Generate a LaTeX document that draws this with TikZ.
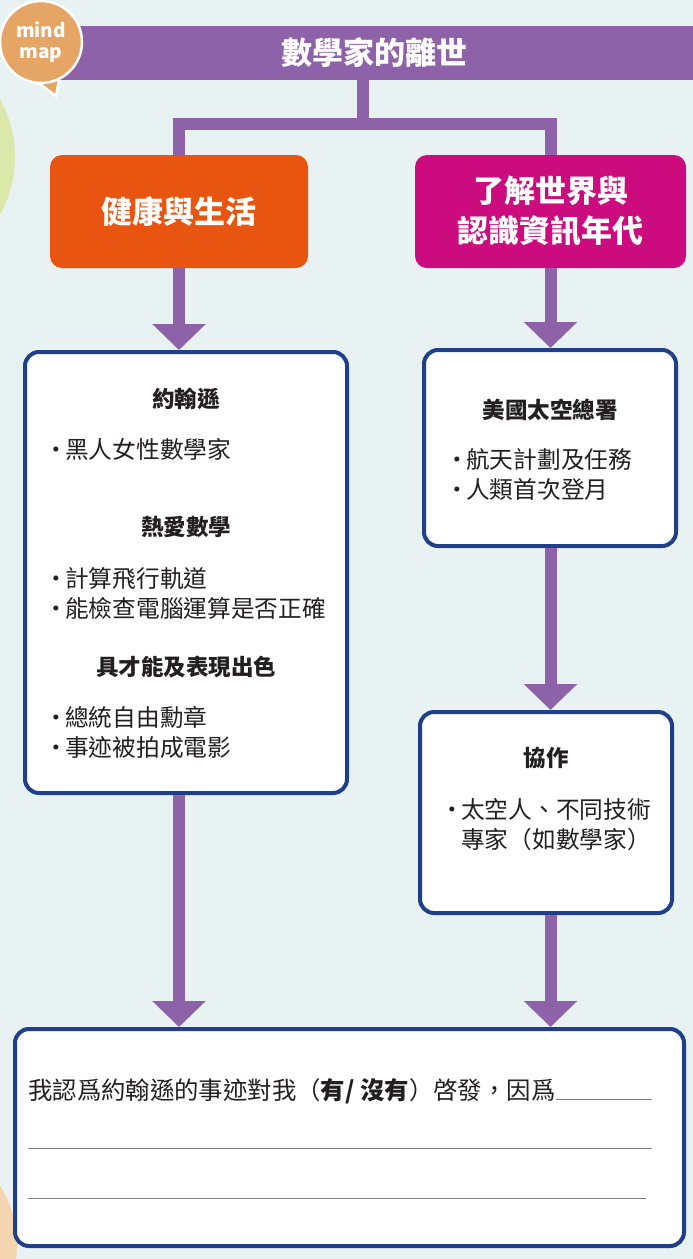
\documentclass[tikz,border=0pt]{standalone}
\usepackage[]{fontspec}
\usepackage[]{xcolor}
\setmainfont{Noto Sans CJK TC}
\usetikzlibrary{positioning}
\usetikzlibrary{arrows.meta}

\definecolor{pagebg}{HTML}{E9F2F3}
\definecolor{mmpurple}{HTML}{8E62A8}
\definecolor{mmorange}{HTML}{E85510}
\definecolor{mmmagenta}{HTML}{CB0B7E}
\definecolor{cardblue}{HTML}{1F3F8A}
\definecolor{badge}{HTML}{E5A565}
\definecolor{leafgreen}{HTML}{DCE8A9}
\definecolor{peach}{HTML}{F5D5B0}
\definecolor{ink}{HTML}{231F20}

\newcommand{\dotmark}{\makebox[18pt][c]{·}}

\begin{document}
\begin{tikzpicture}[
        x=1pt, y=-1pt,
        link/.style = {draw=mmpurple, line width=12pt, line join=miter},
        flow/.style = {link, -{Triangle[width=52pt, length=26pt]}},
        topic/.style = {rounded corners=12pt, text=white, align=center, inner sep=0pt,
                        font=\bfseries\fontsize{31}{40}\selectfont},
        card/.style = {draw=cardblue, line width=4pt, fill=white, rounded corners=14pt, inner sep=0pt},
        head/.style = {text=ink, inner sep=0pt, font=\bfseries\fontsize{22.5}{26}\selectfont},
        item/.style = {text=ink, inner sep=0pt, anchor=west, align=left, font=\fontsize{23.7}{30}\selectfont}
    ]

        \useasboundingbox (0,0) rectangle (693,1259);
        \fill[pagebg] (0,0) rectangle (693,1259);
        \fill[leafgreen] (-103,157) circle (118pt);
        \fill[peach] (-95,1245) circle (112pt);

        % title bar and badge
        \node[fill=mmpurple, minimum width=638pt, minimum height=54pt, inner sep=0pt, text=white,
              font=\bfseries\fontsize{31}{34}\selectfont] (title) at (374,53) {數學家的離世};
        \draw[fill=badge, draw=white, line width=2.5pt] (24,72) -- (56,96) -- (62,64) -- cycle;
        \node[circle, fill=badge, draw=white, line width=2.5pt, minimum size=82pt, inner sep=0pt,
              text=white, align=center, font=\bfseries\fontsize{19}{21}\selectfont] (badge) at (41,42) {mind\\map};

        % topics
        \node[topic, fill=mmorange, minimum width=258pt, minimum height=113pt] (health) at (179,211.5) {健康與生活};
        \node[topic, fill=mmmagenta, minimum width=271pt, minimum height=113pt] (world) at (550.5,211.5) {了解世界與\\認識資訊年代};

        \coordinate (fork) at (363,124);
        \draw[link] (title.south -| fork) -- (fork);
        \draw[link] (health.north) |- (fork) -| (world.north);

        % cards
        \node[card, minimum width=322pt, minimum height=441pt] (life) at (186,572.5) {};
        \node[card, minimum width=252pt, minimum height=196pt] (nasa) at (550,448) {};
        \node[card, minimum width=252pt, minimum height=201pt] (team) at (546,812.5) {};
        \node[card, minimum width=669pt, minimum height=217pt] (note) at (349.5,1137.5) {};

        \node[head] (johnson) at (186,399) {約翰遜};
        \node[item] (black) at (47,449) {\dotmark 黑人女性數學家};
        \node[head] (love) at (186,527) {熱愛數學};
        \node[item] (calc) at (47,593) {\dotmark 計算飛行軌道\\\dotmark 能檢查電腦運算是否正確};
        \node[head] (talent) at (186,667) {具才能及表現出色};
        \node[item] (honour) at (47,732) {\dotmark 總統自由勳章\\\dotmark 事迹被拍成電影};

        \node[head] (agency) at (550,410) {美國太空總署};
        \node[item] (mission) at (448,474) {\dotmark 航天計劃及任務\\\dotmark 人類首次登月};

        \node[head] (coop) at (546,758) {協作};
        \node[item] (experts) at (443,825) {\dotmark 太空人、不同技術\\\hspace{18pt}專家（如數學家）};

        \node[item, font=\fontsize{24.4}{30}\selectfont] (reason) at (28,1091)
            {我認爲約翰遜的事迹對我（\textbf{有/ 沒有}）啓發，因爲};
        \coordinate (blank1) at (652,1100);
        \coordinate (line2a) at (28,1148);
        \coordinate (line2b) at (652,1148);
        \coordinate (line3a) at (28,1198);
        \coordinate (line3b) at (646,1198);
        \draw[gray, line width=1pt] (reason.base east) -- (reason.base east -| blank1);
        \draw[gray, line width=1pt] (line2a) -- (line2b);
        \draw[gray, line width=1pt] (line3a) -- (line3b);

        % arrows
        \draw[flow] (health.south) -- (health.south |- life.north);
        \draw[flow] (health.south |- life.south) -- (health.south |- note.north);
        \draw[flow] (world.south) -- (world.south |- nasa.north);
        \draw[flow] (world.south |- nasa.south) -- (world.south |- team.north);
        \draw[flow] (world.south |- team.south) -- (world.south |- note.north);

    \end{tikzpicture}
\end{document}
